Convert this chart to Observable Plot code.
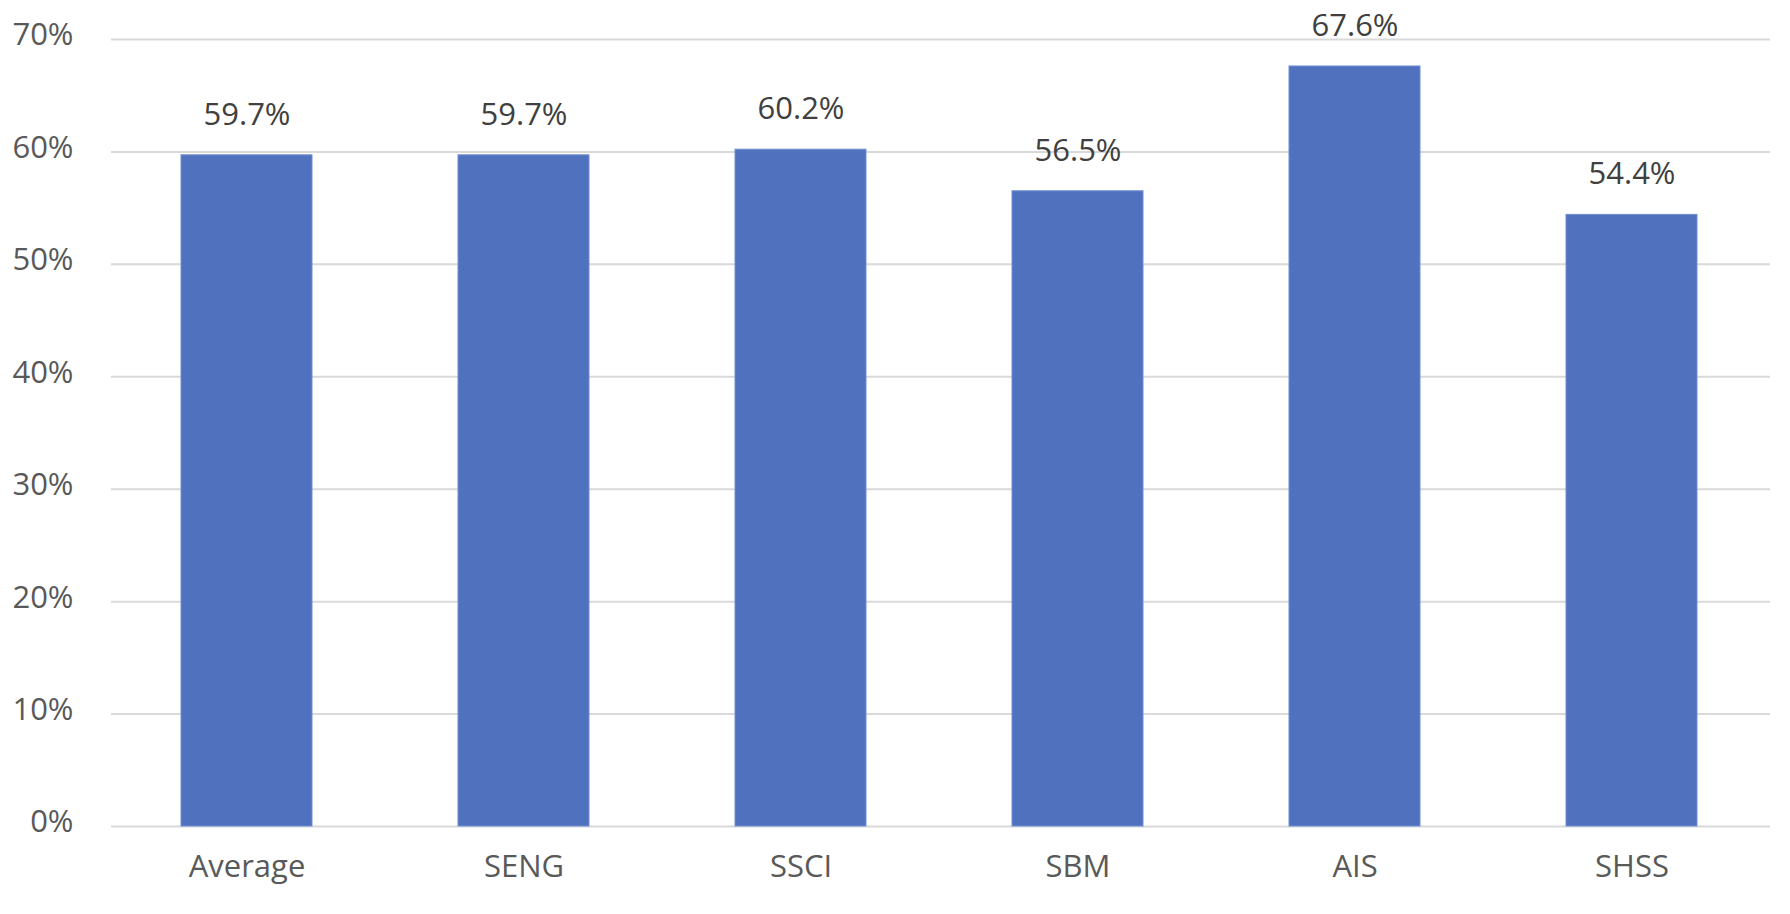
<!DOCTYPE html>
<html>
<head>
<meta charset="utf-8">
<script src="https://cdn.jsdelivr.net/npm/d3@7"></script>
<script src="https://cdn.jsdelivr.net/npm/@observablehq/plot@0.6"></script>
<style>
  html, body { margin: 0; padding: 0; background: #fff; }
  #chart { width: 1790px; height: 914px; }
</style>
</head>
<body>
<div id="chart"></div>
<script>
const categories = ["Average", "SENG", "SSCI", "SBM", "AIS", "SHSS"];
const values = [59.7, 59.7, 60.2, 56.5, 67.6, 54.4];
const yTicks = [0, 10, 20, 30, 40, 50, 60, 70];

const data = categories.map((c, i) => ({category: c, value: values[i]}));

const chart = Plot.plot({
  width: 1790,
  height: 914,
  marginLeft: 111,
  marginRight: 20,
  marginTop: 39,
  marginBottom: 88,
  style: {fontFamily: "'Open Sans', sans-serif", fontSize: "31px", background: "#fff"},
  x: {domain: categories, paddingInner: 0.526, paddingOuter: 0.25, align: 0.49, label: null},
  y: {domain: [0, 70], label: null},
  marks: [
    Plot.gridY(yTicks, {stroke: "#d9d9d9", strokeOpacity: 1, strokeWidth: 2}),
    Plot.barY(data, {x: "category", y: "value", fill: "#4f71be", stroke: "#7190d3", strokeWidth: 1}),
    Plot.text(data, {x: "category", y: "value", text: d => d.value.toFixed(1) + "%", dy: -40.5, lineAnchor: "middle", fill: "#404040", fontSize: 31}),
    Plot.axisY({ticks: yTicks, tickFormat: d => d + "%", tickSize: 0, tickPadding: 38, dy: -4, color: "#595959", fontSize: 31, label: null}),
    Plot.axisX({tickSize: 0, tickPadding: 28, color: "#595959", fontSize: 31, label: null})
  ]
});
document.getElementById("chart").appendChild(chart);
</script>
</body>
</html>
